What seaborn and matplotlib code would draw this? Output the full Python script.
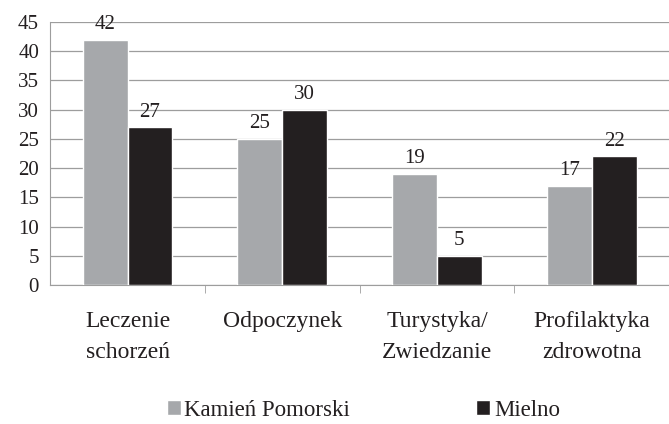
"""
Grouped bar chart: reasons for visiting, Kamień Pomorski vs Mielno.
"""

import matplotlib

matplotlib.use("Agg")
import matplotlib.pyplot as plt
import pandas as pd
import seaborn as sns

categories = ["Leczenie\nschorzeń", "Odpoczynek", "Turystyka/\nZwiedzanie", "Profilaktyka\nzdrowotna"]
series = ["Kamień Pomorski", "Mielno"]
kamien = [42, 25, 19, 17]
mielno = [27, 30, 5, 22]
y_ticks = list(range(0, 50, 5))

colors = ["#a6a8ab", "#231f20"]
grid_color = "#9d9d9d"
text_color = "#231f20"


def build_frame() -> pd.DataFrame:
    rows = []
    for cat, a, b in zip(categories, kamien, mielno):
        rows.append({"category": cat, "series": series[0], "value": a})
        rows.append({"category": cat, "series": series[1], "value": b})
    return pd.DataFrame(rows)


def main() -> None:
    sns.set_style("white")
    plt.rcParams["font.family"] = ["Liberation Serif", "DejaVu Serif"]

    df = build_frame()
    fig = plt.figure(figsize=(6.69, 4.24), dpi=100)
    ax = fig.add_axes([0.075, 0.328, 0.925, 0.62])

    sns.barplot(
        data=df,
        x="category",
        y="value",
        hue="series",
        hue_order=series,
        palette=colors,
        width=0.58,
        saturation=1,
        ax=ax,
        zorder=3,
    )

    for container in ax.containers:
        ax.bar_label(container, padding=4, fontsize=15, color=text_color)

    ax.set_ylim(0, 45)
    ax.set_xlim(-0.5, 3.5)
    ax.set_yticks(y_ticks)
    ax.yaxis.grid(True, color=grid_color, linewidth=0.9, zorder=0)
    ax.set_axisbelow(True)
    ax.tick_params(axis="y", labelsize=15, length=6, color=grid_color, pad=2, labelcolor=text_color)

    # category boundaries get the x tick marks, labels sit at centers
    ax.set_xticks([i + 0.5 for i in range(len(categories) - 1)], minor=True)
    ax.set_xticks(range(len(categories)))
    ax.set_xticklabels(categories, fontsize=17, color=text_color, linespacing=1.6)
    ax.tick_params(axis="x", which="major", length=0, pad=19)
    ax.tick_params(axis="x", which="minor", length=6, color=grid_color, bottom=True)

    for side in ["top", "right"]:
        ax.spines[side].set_visible(False)
    ax.spines["left"].set_color(grid_color)
    ax.spines["bottom"].set_color(grid_color)
    ax.set_xlabel("")
    ax.set_ylabel("")

    handles, labels = ax.get_legend_handles_labels()
    ax.legend_.remove()
    fig.legend(
        handles,
        labels,
        loc="center",
        bbox_to_anchor=(0.543, 0.033),
        ncol=2,
        frameon=False,
        fontsize=16.5,
        handlelength=0.62,
        handleheight=0.62,
        handletextpad=0.15,
        columnspacing=5.5,
        labelcolor=text_color,
    )

    fig.savefig("out.png", dpi=100)
    plt.close(fig)


if __name__ == "__main__":
    main()
